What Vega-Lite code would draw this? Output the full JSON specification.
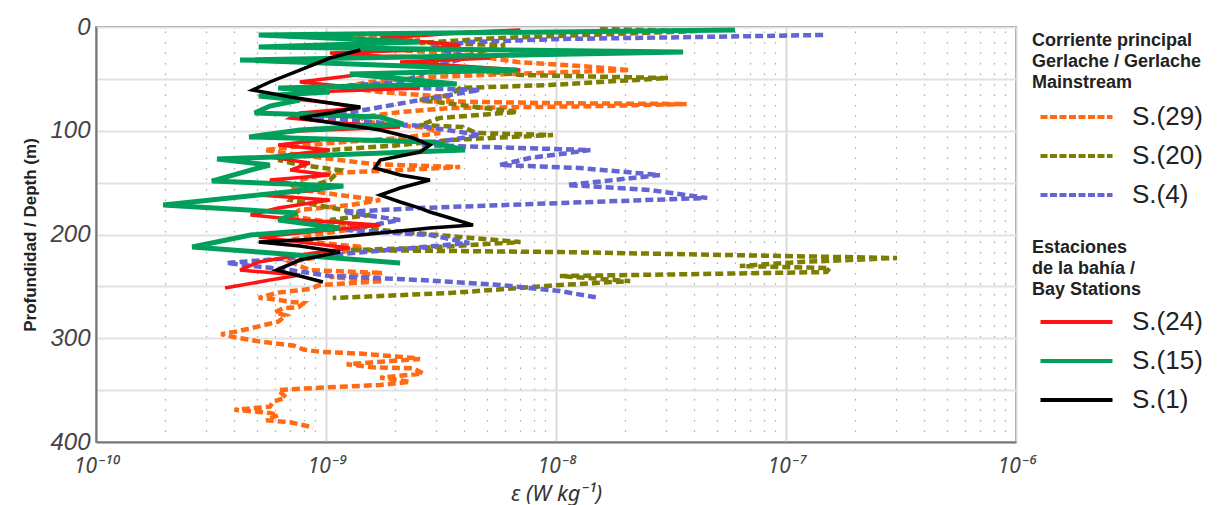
{
  "$schema": "https://vega.github.io/schema/vega-lite/v6.json",
  "width": 920,
  "height": 415,
  "autosize": "none",
  "padding": {"left": 96, "top": 27, "right": 209, "bottom": 63},
  "background": "white",
  "config": {
    "view": {"stroke": "#666", "strokeWidth": 1.5},
    "font": "Liberation Sans"
  },
  "datasets": {
    "main": [
      {"station": "S.(29)", "depth": 8.7, "eps": 1.07e-9},
      {"station": "S.(29)", "depth": 12.5, "eps": 2.56e-9},
      {"station": "S.(29)", "depth": 17.4, "eps": 1.41e-9},
      {"station": "S.(29)", "depth": 22.2, "eps": 2.1e-9},
      {"station": "S.(29)", "depth": 27, "eps": 4.2e-9},
      {"station": "S.(29)", "depth": 33.7, "eps": 6.8e-9},
      {"station": "S.(29)", "depth": 37.6, "eps": 1.27e-8},
      {"station": "S.(29)", "depth": 41.5, "eps": 2.1e-8},
      {"station": "S.(29)", "depth": 44.3, "eps": 8.5e-9},
      {"station": "S.(29)", "depth": 48.2, "eps": 2.83e-9},
      {"station": "S.(29)", "depth": 53, "eps": 1.55e-9},
      {"station": "S.(29)", "depth": 57.8, "eps": 1.15e-9},
      {"station": "S.(29)", "depth": 62.7, "eps": 1.72e-9},
      {"station": "S.(29)", "depth": 67.5, "eps": 3.46e-9},
      {"station": "S.(29)", "depth": 71.3, "eps": 2.56e-9},
      {"station": "S.(29)", "depth": 73.5, "eps": 1.04e-8},
      {"station": "S.(29)", "depth": 74.2, "eps": 3.7e-8},
      {"station": "S.(29)", "depth": 76.2, "eps": 1.55e-8},
      {"station": "S.(29)", "depth": 78.1, "eps": 3.46e-9},
      {"station": "S.(29)", "depth": 82, "eps": 2.1e-9},
      {"station": "S.(29)", "depth": 86.8, "eps": 1.41e-9},
      {"station": "S.(29)", "depth": 91.6, "eps": 1.51e-9},
      {"station": "S.(29)", "depth": 97.4, "eps": 2.75e-9},
      {"station": "S.(29)", "depth": 102.2, "eps": 3.13e-9},
      {"station": "S.(29)", "depth": 107, "eps": 2.1e-9},
      {"station": "S.(29)", "depth": 111.8, "eps": 1.04e-9},
      {"station": "S.(29)", "depth": 118.6, "eps": 5.4e-10},
      {"station": "S.(29)", "depth": 123.4, "eps": 7.7e-10},
      {"station": "S.(29)", "depth": 128.2, "eps": 1.15e-9},
      {"station": "S.(29)", "depth": 132.1, "eps": 1.6e-9},
      {"station": "S.(29)", "depth": 135, "eps": 3.83e-9},
      {"station": "S.(29)", "depth": 137.9, "eps": 2.1e-9},
      {"station": "S.(29)", "depth": 140.7, "eps": 1.04e-9},
      {"station": "S.(29)", "depth": 147.5, "eps": 7.7e-10},
      {"station": "S.(29)", "depth": 155.2, "eps": 7e-10},
      {"station": "S.(29)", "depth": 162, "eps": 1.15e-9},
      {"station": "S.(29)", "depth": 166.8, "eps": 1.72e-9},
      {"station": "S.(29)", "depth": 171.6, "eps": 1.27e-9},
      {"station": "S.(29)", "depth": 176.4, "eps": 7.7e-10},
      {"station": "S.(29)", "depth": 182.2, "eps": 7e-10},
      {"station": "S.(29)", "depth": 188, "eps": 1.04e-9},
      {"station": "S.(29)", "depth": 193.8, "eps": 1.41e-9},
      {"station": "S.(29)", "depth": 199.5, "eps": 9.4e-10},
      {"station": "S.(29)", "depth": 205.3, "eps": 7e-10},
      {"station": "S.(29)", "depth": 212.1, "eps": 1.45e-9},
      {"station": "S.(29)", "depth": 219.8, "eps": 1.04e-9},
      {"station": "S.(29)", "depth": 226.5, "eps": 7e-10},
      {"station": "S.(29)", "depth": 234.3, "eps": 8.5e-10},
      {"station": "S.(29)", "depth": 237.1, "eps": 1.77e-9},
      {"station": "S.(29)", "depth": 241, "eps": 1.04e-9},
      {"station": "S.(29)", "depth": 244.9, "eps": 1.77e-9},
      {"station": "S.(29)", "depth": 248.7, "eps": 9.4e-10},
      {"station": "S.(29)", "depth": 252.6, "eps": 8.5e-10},
      {"station": "S.(29)", "depth": 256, "eps": 6.2e-10},
      {"station": "S.(29)", "depth": 261, "eps": 5.1e-10},
      {"station": "S.(29)", "depth": 262, "eps": 5.7e-10},
      {"station": "S.(29)", "depth": 265, "eps": 7.1e-10},
      {"station": "S.(29)", "depth": 266, "eps": 8e-10},
      {"station": "S.(29)", "depth": 270, "eps": 7.6e-10},
      {"station": "S.(29)", "depth": 271, "eps": 6.5e-10},
      {"station": "S.(29)", "depth": 275, "eps": 6e-10},
      {"station": "S.(29)", "depth": 278, "eps": 6.7e-10},
      {"station": "S.(29)", "depth": 284, "eps": 6.2e-10},
      {"station": "S.(29)", "depth": 289, "eps": 5e-10},
      {"station": "S.(29)", "depth": 294, "eps": 4e-10},
      {"station": "S.(29)", "depth": 296, "eps": 3.5e-10},
      {"station": "S.(29)", "depth": 299, "eps": 4e-10},
      {"station": "S.(29)", "depth": 303, "eps": 5.1e-10},
      {"station": "S.(29)", "depth": 307, "eps": 7.2e-10},
      {"station": "S.(29)", "depth": 311, "eps": 8e-10},
      {"station": "S.(29)", "depth": 313, "eps": 9.4e-10},
      {"station": "S.(29)", "depth": 315, "eps": 1.45e-9},
      {"station": "S.(29)", "depth": 319, "eps": 2.4e-9},
      {"station": "S.(29)", "depth": 320, "eps": 2.56e-9},
      {"station": "S.(29)", "depth": 325, "eps": 1.23e-9},
      {"station": "S.(29)", "depth": 328, "eps": 1.6e-9},
      {"station": "S.(29)", "depth": 329, "eps": 2.4e-9},
      {"station": "S.(29)", "depth": 334, "eps": 2.64e-9},
      {"station": "S.(29)", "depth": 338, "eps": 1.72e-9},
      {"station": "S.(29)", "depth": 342, "eps": 2.32e-9},
      {"station": "S.(29)", "depth": 345, "eps": 1.72e-9},
      {"station": "S.(29)", "depth": 348, "eps": 8.8e-10},
      {"station": "S.(29)", "depth": 350, "eps": 6.2e-10},
      {"station": "S.(29)", "depth": 357, "eps": 6.7e-10},
      {"station": "S.(29)", "depth": 361, "eps": 5.9e-10},
      {"station": "S.(29)", "depth": 366, "eps": 5.7e-10},
      {"station": "S.(29)", "depth": 369, "eps": 4e-10},
      {"station": "S.(29)", "depth": 371, "eps": 5.1e-10},
      {"station": "S.(29)", "depth": 372, "eps": 5.7e-10},
      {"station": "S.(29)", "depth": 374, "eps": 6.2e-10},
      {"station": "S.(29)", "depth": 379, "eps": 5.5e-10},
      {"station": "S.(29)", "depth": 381, "eps": 7e-10},
      {"station": "S.(29)", "depth": 386, "eps": 8.8e-10},

      {"station": "S.(20)", "depth": 1.9, "eps": 1.55e-8},
      {"station": "S.(20)", "depth": 3.9, "eps": 4.1e-8},
      {"station": "S.(20)", "depth": 10.6, "eps": 5.7e-9},
      {"station": "S.(20)", "depth": 15.4, "eps": 2.56e-9},
      {"station": "S.(20)", "depth": 17.4, "eps": 6e-9},
      {"station": "S.(20)", "depth": 27, "eps": 4.2e-9},
      {"station": "S.(20)", "depth": 36.6, "eps": 2.83e-9},
      {"station": "S.(20)", "depth": 46.3, "eps": 7e-9},
      {"station": "S.(20)", "depth": 49.2, "eps": 3.07e-8},
      {"station": "S.(20)", "depth": 55.9, "eps": 9.4e-9},
      {"station": "S.(20)", "depth": 58.8, "eps": 3.83e-9},
      {"station": "S.(20)", "depth": 65.6, "eps": 3.46e-9},
      {"station": "S.(20)", "depth": 70.4, "eps": 2.56e-9},
      {"station": "S.(20)", "depth": 81.9, "eps": 6.8e-9},
      {"station": "S.(20)", "depth": 87.7, "eps": 3.13e-9},
      {"station": "S.(20)", "depth": 94.5, "eps": 2.56e-9},
      {"station": "S.(20)", "depth": 96.4, "eps": 3.94e-9},
      {"station": "S.(20)", "depth": 102.2, "eps": 4.5e-9},
      {"station": "S.(20)", "depth": 104.1, "eps": 9.7e-9},
      {"station": "S.(20)", "depth": 108.9, "eps": 3.46e-9},
      {"station": "S.(20)", "depth": 113.8, "eps": 2.1e-9},
      {"station": "S.(20)", "depth": 118.6, "eps": 1.04e-9},
      {"station": "S.(20)", "depth": 128.2, "eps": 6.2e-10},
      {"station": "S.(20)", "depth": 133, "eps": 7.7e-10},
      {"station": "S.(20)", "depth": 137.9, "eps": 1.15e-9},
      {"station": "S.(20)", "depth": 147.5, "eps": 1.04e-9},
      {"station": "S.(20)", "depth": 157.1, "eps": 7.7e-10},
      {"station": "S.(20)", "depth": 166.8, "eps": 7e-10},
      {"station": "S.(20)", "depth": 173.5, "eps": 1.01e-9},
      {"station": "S.(20)", "depth": 181.2, "eps": 1.55e-9},
      {"station": "S.(20)", "depth": 186, "eps": 1.04e-9},
      {"station": "S.(20)", "depth": 195.7, "eps": 1.72e-9},
      {"station": "S.(20)", "depth": 201.5, "eps": 3.46e-9},
      {"station": "S.(20)", "depth": 207.3, "eps": 7e-9},
      {"station": "S.(20)", "depth": 213, "eps": 2.56e-9},
      {"station": "S.(20)", "depth": 215, "eps": 1.27e-9},
      {"station": "S.(20)", "depth": 216.9, "eps": 1.04e-8},
      {"station": "S.(20)", "depth": 222.7, "eps": 3.04e-7},
      {"station": "S.(20)", "depth": 226.5, "eps": 1.15e-7},
      {"station": "S.(20)", "depth": 230.4, "eps": 6.3e-8},
      {"station": "S.(20)", "depth": 232.3, "eps": 1.55e-7},
      {"station": "S.(20)", "depth": 236.2, "eps": 1.5e-7},
      {"station": "S.(20)", "depth": 238.1, "eps": 4.23e-8},
      {"station": "S.(20)", "depth": 240, "eps": 1.04e-8},
      {"station": "S.(20)", "depth": 244.9, "eps": 2.1e-8},
      {"station": "S.(20)", "depth": 248.7, "eps": 1.04e-8},
      {"station": "S.(20)", "depth": 256.4, "eps": 3.46e-9},
      {"station": "S.(20)", "depth": 261.2, "eps": 1.07e-9},

      {"station": "S.(4)", "depth": 7.7, "eps": 1.45e-7},
      {"station": "S.(4)", "depth": 9.6, "eps": 4.23e-8},
      {"station": "S.(4)", "depth": 11.6, "eps": 1.04e-8},
      {"station": "S.(4)", "depth": 14.5, "eps": 4.2e-9},
      {"station": "S.(4)", "depth": 19.3, "eps": 2.83e-9},
      {"station": "S.(4)", "depth": 28.9, "eps": 4.2e-9},
      {"station": "S.(4)", "depth": 36.6, "eps": 3.13e-9},
      {"station": "S.(4)", "depth": 46.3, "eps": 2.56e-9},
      {"station": "S.(4)", "depth": 53, "eps": 2.1e-9},
      {"station": "S.(4)", "depth": 57.8, "eps": 1.04e-9},
      {"station": "S.(4)", "depth": 58.8, "eps": 2.39e-9},
      {"station": "S.(4)", "depth": 60.7, "eps": 4.67e-9},
      {"station": "S.(4)", "depth": 70.4, "eps": 2.56e-9},
      {"station": "S.(4)", "depth": 81.9, "eps": 1.31e-9},
      {"station": "S.(4)", "depth": 86.8, "eps": 8.3e-10},
      {"station": "S.(4)", "depth": 89.7, "eps": 1.27e-9},
      {"station": "S.(4)", "depth": 95.4, "eps": 2.56e-9},
      {"station": "S.(4)", "depth": 104.1, "eps": 4.67e-9},
      {"station": "S.(4)", "depth": 113.8, "eps": 2.56e-9},
      {"station": "S.(4)", "depth": 118.6, "eps": 1.41e-8},
      {"station": "S.(4)", "depth": 126.3, "eps": 7.7e-9},
      {"station": "S.(4)", "depth": 133, "eps": 5.7e-9},
      {"station": "S.(4)", "depth": 135.9, "eps": 1.27e-8},
      {"station": "S.(4)", "depth": 142.7, "eps": 2.83e-8},
      {"station": "S.(4)", "depth": 152.3, "eps": 1.12e-8},
      {"station": "S.(4)", "depth": 157.1, "eps": 2.56e-8},
      {"station": "S.(4)", "depth": 164.8, "eps": 4.54e-8},
      {"station": "S.(4)", "depth": 169.7, "eps": 1.04e-8},
      {"station": "S.(4)", "depth": 174.5, "eps": 2.56e-9},
      {"station": "S.(4)", "depth": 178.3, "eps": 1.19e-9},
      {"station": "S.(4)", "depth": 186, "eps": 2.1e-9},
      {"station": "S.(4)", "depth": 195.7, "eps": 1.23e-9},
      {"station": "S.(4)", "depth": 200.5, "eps": 2.83e-9},
      {"station": "S.(4)", "depth": 208.2, "eps": 4.2e-9},
      {"station": "S.(4)", "depth": 219.8, "eps": 1.04e-9},
      {"station": "S.(4)", "depth": 227.5, "eps": 3.7e-10},
      {"station": "S.(4)", "depth": 234.3, "eps": 7e-10},
      {"station": "S.(4)", "depth": 240, "eps": 1.04e-9},
      {"station": "S.(4)", "depth": 243.9, "eps": 2.56e-9},
      {"station": "S.(4)", "depth": 248.7, "eps": 5.7e-9},
      {"station": "S.(4)", "depth": 254.5, "eps": 1.04e-8},
      {"station": "S.(4)", "depth": 261.2, "eps": 1.55e-8}
    ],
    "bay": [
      {"station": "S.(24)", "depth": 2.9, "eps": 7e-9},
      {"station": "S.(24)", "depth": 4.8, "eps": 4.2e-9},
      {"station": "S.(24)", "depth": 7.7, "eps": 2.83e-9},
      {"station": "S.(24)", "depth": 10.6, "eps": 1.72e-9},
      {"station": "S.(24)", "depth": 17.4, "eps": 3.83e-9},
      {"station": "S.(24)", "depth": 22.2, "eps": 2.56e-9},
      {"station": "S.(24)", "depth": 25.1, "eps": 1.04e-9},
      {"station": "S.(24)", "depth": 28, "eps": 1.72e-9},
      {"station": "S.(24)", "depth": 29.9, "eps": 5.2e-9},
      {"station": "S.(24)", "depth": 33.7, "eps": 2.1e-9},
      {"station": "S.(24)", "depth": 41.5, "eps": 7e-9},
      {"station": "S.(24)", "depth": 45, "eps": 1.5e-9},
      {"station": "S.(24)", "depth": 53, "eps": 7.7e-10},
      {"station": "S.(24)", "depth": 56.9, "eps": 1.15e-9},
      {"station": "S.(24)", "depth": 58.8, "eps": 2.56e-9},
      {"station": "S.(24)", "depth": 62.7, "eps": 8.5e-10},
      {"station": "S.(24)", "depth": 67.5, "eps": 6.2e-10},
      {"station": "S.(24)", "depth": 73.3, "eps": 1.04e-9},
      {"station": "S.(24)", "depth": 78.1, "eps": 1.41e-9},
      {"station": "S.(24)", "depth": 82.9, "eps": 7.7e-10},
      {"station": "S.(24)", "depth": 87.7, "eps": 7e-10},
      {"station": "S.(24)", "depth": 92.5, "eps": 1.15e-9},
      {"station": "S.(24)", "depth": 96.4, "eps": 2.1e-9},
      {"station": "S.(24)", "depth": 100.3, "eps": 7.7e-10},
      {"station": "S.(24)", "depth": 104.1, "eps": 5.1e-10},
      {"station": "S.(24)", "depth": 108.9, "eps": 9.4e-10},
      {"station": "S.(24)", "depth": 113.8, "eps": 6.2e-10},
      {"station": "S.(24)", "depth": 118.6, "eps": 1.04e-9},
      {"station": "S.(24)", "depth": 125.3, "eps": 5.7e-10},
      {"station": "S.(24)", "depth": 131.1, "eps": 8.5e-10},
      {"station": "S.(24)", "depth": 137.9, "eps": 7e-10},
      {"station": "S.(24)", "depth": 142.7, "eps": 1.04e-9},
      {"station": "S.(24)", "depth": 147.5, "eps": 5.7e-10},
      {"station": "S.(24)", "depth": 152.3, "eps": 7.7e-10},
      {"station": "S.(24)", "depth": 157.1, "eps": 9.4e-10},
      {"station": "S.(24)", "depth": 162, "eps": 5.1e-10},
      {"station": "S.(24)", "depth": 166.8, "eps": 1.04e-9},
      {"station": "S.(24)", "depth": 174.5, "eps": 6.2e-10},
      {"station": "S.(24)", "depth": 181.2, "eps": 4.7e-10},
      {"station": "S.(24)", "depth": 186, "eps": 7.7e-10},
      {"station": "S.(24)", "depth": 190.9, "eps": 1.72e-9},
      {"station": "S.(24)", "depth": 197.6, "eps": 8.5e-10},
      {"station": "S.(24)", "depth": 202.4, "eps": 5.1e-10},
      {"station": "S.(24)", "depth": 207.3, "eps": 7.7e-10},
      {"station": "S.(24)", "depth": 213, "eps": 1.27e-9},
      {"station": "S.(24)", "depth": 219.8, "eps": 7.7e-10},
      {"station": "S.(24)", "depth": 226.5, "eps": 5.1e-10},
      {"station": "S.(24)", "depth": 234.3, "eps": 4.23e-10},
      {"station": "S.(24)", "depth": 239.1, "eps": 7.7e-10},
      {"station": "S.(24)", "depth": 243.9, "eps": 5.7e-10},
      {"station": "S.(24)", "depth": 251.6, "eps": 3.64e-10},

      {"station": "S.(15)", "depth": 2.9, "eps": 6e-8},
      {"station": "S.(15)", "depth": 7.7, "eps": 5.1e-10},
      {"station": "S.(15)", "depth": 14.5, "eps": 2.56e-9},
      {"station": "S.(15)", "depth": 19.3, "eps": 5.1e-10},
      {"station": "S.(15)", "depth": 24.1, "eps": 3.57e-8},
      {"station": "S.(15)", "depth": 31.8, "eps": 4.23e-10},
      {"station": "S.(15)", "depth": 41.5, "eps": 6.8e-9},
      {"station": "S.(15)", "depth": 45.3, "eps": 1.27e-9},
      {"station": "S.(15)", "depth": 54.9, "eps": 3.7e-9},
      {"station": "S.(15)", "depth": 58.8, "eps": 6.2e-10},
      {"station": "S.(15)", "depth": 62.7, "eps": 1.04e-9},
      {"station": "S.(15)", "depth": 66.5, "eps": 5.1e-10},
      {"station": "S.(15)", "depth": 70.4, "eps": 7.7e-10},
      {"station": "S.(15)", "depth": 76.2, "eps": 5.7e-10},
      {"station": "S.(15)", "depth": 82.9, "eps": 4.9e-10},
      {"station": "S.(15)", "depth": 86.8, "eps": 1.72e-9},
      {"station": "S.(15)", "depth": 93.5, "eps": 2.16e-9},
      {"station": "S.(15)", "depth": 99.3, "eps": 7.7e-10},
      {"station": "S.(15)", "depth": 106, "eps": 4.63e-10},
      {"station": "S.(15)", "depth": 110.9, "eps": 2.83e-9},
      {"station": "S.(15)", "depth": 118.6, "eps": 4.02e-9},
      {"station": "S.(15)", "depth": 127.2, "eps": 3.36e-10},
      {"station": "S.(15)", "depth": 133, "eps": 5.7e-10},
      {"station": "S.(15)", "depth": 137.9, "eps": 4.7e-10},
      {"station": "S.(15)", "depth": 148.5, "eps": 3.19e-10},
      {"station": "S.(15)", "depth": 153.3, "eps": 1.19e-9},
      {"station": "S.(15)", "depth": 162, "eps": 5.1e-10},
      {"station": "S.(15)", "depth": 171.6, "eps": 1.96e-10},
      {"station": "S.(15)", "depth": 179.3, "eps": 7.5e-10},
      {"station": "S.(15)", "depth": 186, "eps": 6.2e-10},
      {"station": "S.(15)", "depth": 193.8, "eps": 1.15e-9},
      {"station": "S.(15)", "depth": 200.5, "eps": 4.7e-10},
      {"station": "S.(15)", "depth": 212.1, "eps": 2.62e-10},
      {"station": "S.(15)", "depth": 216.9, "eps": 5.1e-10},
      {"station": "S.(15)", "depth": 227.5, "eps": 2.1e-9},

      {"station": "S.(1)", "depth": 22.2, "eps": 1.41e-9},
      {"station": "S.(1)", "depth": 29.9, "eps": 1.04e-9},
      {"station": "S.(1)", "depth": 41.5, "eps": 7.7e-10},
      {"station": "S.(1)", "depth": 53, "eps": 5.7e-10},
      {"station": "S.(1)", "depth": 60.7, "eps": 4.8e-10},
      {"station": "S.(1)", "depth": 67.5, "eps": 7e-10},
      {"station": "S.(1)", "depth": 73.3, "eps": 1.04e-9},
      {"station": "S.(1)", "depth": 77.1, "eps": 1.41e-9},
      {"station": "S.(1)", "depth": 82.9, "eps": 1.04e-9},
      {"station": "S.(1)", "depth": 87.7, "eps": 7.7e-10},
      {"station": "S.(1)", "depth": 93.5, "eps": 1.15e-9},
      {"station": "S.(1)", "depth": 99.3, "eps": 1.72e-9},
      {"station": "S.(1)", "depth": 107, "eps": 2.39e-9},
      {"station": "S.(1)", "depth": 113.8, "eps": 2.83e-9},
      {"station": "S.(1)", "depth": 120.5, "eps": 2.56e-9},
      {"station": "S.(1)", "depth": 128.2, "eps": 1.72e-9},
      {"station": "S.(1)", "depth": 135.9, "eps": 1.63e-9},
      {"station": "S.(1)", "depth": 142.7, "eps": 2.1e-9},
      {"station": "S.(1)", "depth": 147.5, "eps": 2.83e-9},
      {"station": "S.(1)", "depth": 155.2, "eps": 2.1e-9},
      {"station": "S.(1)", "depth": 162, "eps": 1.72e-9},
      {"station": "S.(1)", "depth": 168.7, "eps": 2.1e-9},
      {"station": "S.(1)", "depth": 174.5, "eps": 2.56e-9},
      {"station": "S.(1)", "depth": 178.3, "eps": 2.83e-9},
      {"station": "S.(1)", "depth": 184.1, "eps": 3.46e-9},
      {"station": "S.(1)", "depth": 190.9, "eps": 4.36e-9},
      {"station": "S.(1)", "depth": 193.8, "eps": 2.83e-9},
      {"station": "S.(1)", "depth": 197.6, "eps": 1.9e-9},
      {"station": "S.(1)", "depth": 202.4, "eps": 1.15e-9},
      {"station": "S.(1)", "depth": 205.3, "eps": 7.7e-10},
      {"station": "S.(1)", "depth": 207.3, "eps": 5.1e-10},
      {"station": "S.(1)", "depth": 211.1, "eps": 7.7e-10},
      {"station": "S.(1)", "depth": 216.9, "eps": 1.15e-9},
      {"station": "S.(1)", "depth": 224.6, "eps": 7.7e-10},
      {"station": "S.(1)", "depth": 234.3, "eps": 6.1e-10},
      {"station": "S.(1)", "depth": 240, "eps": 7.7e-10},
      {"station": "S.(1)", "depth": 245.8, "eps": 9.7e-10}
    ]
  },
  "encoding": {
    "x": {
      "field": "eps",
      "type": "quantitative",
      "scale": {"type": "log", "domain": [1e-10, 1e-6], "nice": false},
      "axis": {
        "title": "ε (W kg⁻¹)",
        "values": [1e-10, 2e-10, 3e-10, 4e-10, 5e-10, 6e-10, 7e-10, 8e-10, 9e-10, 1e-9, 2e-9, 3e-9, 4e-9, 5e-9, 6e-9, 7e-9, 8e-9, 9e-9, 1e-8, 2e-8, 3e-8, 4e-8, 5e-8, 6e-8, 7e-8, 8e-8, 9e-8, 1e-7, 2e-7, 3e-7, 4e-7, 5e-7, 6e-7, 7e-7, 8e-7, 9e-7, 1e-6],
        "labelExpr": "abs(datum.value/1e-10-1)<1e-6 ? '10⁻¹⁰' : abs(datum.value/1e-9-1)<1e-6 ? '10⁻⁹' : abs(datum.value/1e-8-1)<1e-6 ? '10⁻⁸' : abs(datum.value/1e-7-1)<1e-6 ? '10⁻⁷' : abs(datum.value/1e-6-1)<1e-6 ? '10⁻⁶' : ''",
        "grid": true,
        "gridColor": {"condition": {"test": "abs(log(datum.value)/LN10 - round(log(datum.value)/LN10)) < 0.001", "value": "#dadada"}, "value": "#a8a8a8"},
        "gridDash": {"condition": {"test": "abs(log(datum.value)/LN10 - round(log(datum.value)/LN10)) < 0.001", "value": []}, "value": [1.5, 9]},
        "gridWidth": {"condition": {"test": "abs(log(datum.value)/LN10 - round(log(datum.value)/LN10)) < 0.001", "value": 2}, "value": 1.2},
        "ticks": false,
        "domainColor": "#777",
        "domainWidth": 2,
        "labelFont": "Noto Sans",
        "labelFontSize": 21,
        "labelFontStyle": "italic",
        "labelColor": "#444",
        "labelBaseline": "alphabetic",
        "labelPadding": 30,
        "labelOverlap": false,
        "labelFlush": false,
        "titleFont": "Noto Sans",
        "titleFontSize": 22,
        "titleFontStyle": "italic",
        "titleFontWeight": "normal",
        "titleColor": "#333",
        "titleBaseline": "alphabetic",
        "titleY": 58
      }
    },
    "y": {
      "field": "depth",
      "type": "quantitative",
      "scale": {"domain": [0, 400], "reverse": true, "nice": false},
      "axis": {
        "title": "Profundidad / Depth (m)",
        "values": [0, 50, 100, 150, 200, 250, 300, 350, 400],
        "labelExpr": "datum.value % 100 == 0 ? datum.label : ''",
        "grid": true,
        "gridColor": "#e2e2e2",
        "gridWidth": 2,
        "ticks": false,
        "domainColor": "#777",
        "domainWidth": 2,
        "labelFont": "Liberation Sans",
        "labelFontSize": 24,
        "labelFontStyle": "italic",
        "labelColor": "#444",
        "labelPadding": 6,
        "titleFont": "Liberation Sans Narrow, Arial Narrow, Liberation Sans",
        "titleFontSize": 17,
        "titleFontWeight": "bold",
        "titleColor": "#222",
        "titlePadding": 10
      }
    }
  },
  "layer": [
    {
      "data": {"name": "main"},
      "mark": {"type": "line", "strokeDash": [8, 4], "strokeWidth": 4.5, "strokeCap": "butt", "clip": true},
      "encoding": {
        "color": {
          "field": "station",
          "type": "nominal",
          "scale": {"domain": ["S.(29)", "S.(20)", "S.(4)"], "range": ["#ff6a13", "#7d7d00", "#6464d2"]},
          "legend": {
            "orient": "none",
            "legendX": 936,
            "legendY": 5,
            "title": ["Corriente principal", "Gerlache / Gerlache", "Mainstream"],
            "titleFont": "Liberation Sans Narrow, Arial Narrow, Liberation Sans",
            "titleFontSize": 18,
            "titleFontWeight": "bold",
            "titleColor": "#222",
            "titleLineHeight": 21,
            "titlePadding": 12,
            "titleLimit": 260,
            "symbolType": "M-1,0H15",
            "symbolSize": 81,
            "symbolStrokeWidth": 4,
            "symbolDash": [7, 2.5],
            "labelFont": "Liberation Sans",
            "labelFontSize": 26,
            "labelColor": "#222",
            "labelOffset": 74,
            "labelLimit": 200,
            "rowPadding": 13
          }
        },
        "order": {"field": "depth", "type": "quantitative"}
      }
    },
    {
      "data": {"name": "bay"},
      "encoding": {
        "color": {
          "field": "station",
          "type": "nominal",
          "scale": {"domain": ["S.(24)", "S.(15)", "S.(1)"], "range": ["#ff1414", "#00a05c", "#000000"]},
          "legend": {
            "orient": "none",
            "legendX": 936,
            "legendY": 212,
            "title": ["Estaciones", "de la bahía /", "Bay Stations"],
            "titleFont": "Liberation Sans Narrow, Arial Narrow, Liberation Sans",
            "titleFontSize": 18,
            "titleFontWeight": "bold",
            "titleColor": "#222",
            "titleLineHeight": 21,
            "titlePadding": 10,
            "titleLimit": 260,
            "symbolType": "M-1,0H15",
            "symbolSize": 81,
            "symbolStrokeWidth": 4,
            "labelFont": "Liberation Sans",
            "labelFontSize": 26,
            "labelColor": "#222",
            "labelOffset": 74,
            "labelLimit": 200,
            "rowPadding": 13
          }
        },
        "order": {"field": "depth", "type": "quantitative"}
      },
      "layer": [
        {"transform": [{"filter": "datum.station == 'S.(24)'"}], "mark": {"type": "line", "strokeWidth": 3.5, "clip": true}},
        {"transform": [{"filter": "datum.station == 'S.(15)'"}], "mark": {"type": "line", "strokeWidth": 5, "clip": true}},
        {"transform": [{"filter": "datum.station == 'S.(1)'"}], "mark": {"type": "line", "strokeWidth": 3.5, "clip": true}}
      ]
    }
  ],
  "resolve": {"scale": {"color": "independent"}, "legend": {"color": "independent"}}
}
